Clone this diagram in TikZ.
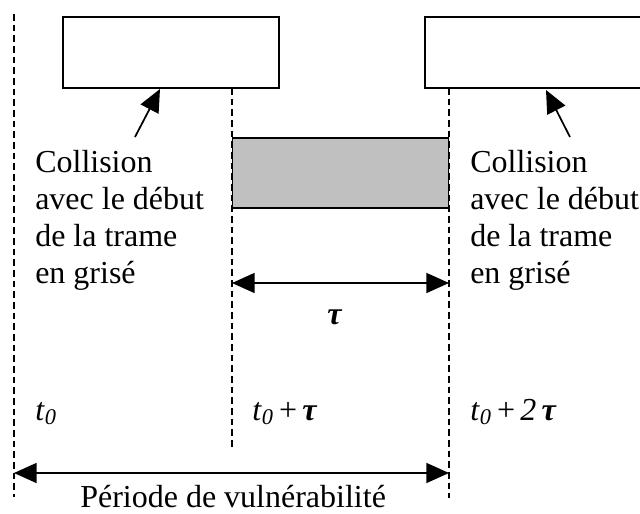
\documentclass[tikz,border=0pt]{standalone}
\usepackage{fontspec}
\setmainfont{Liberation Serif}
\usetikzlibrary{arrows.meta}
\tikzset{
  frame/.style={draw, line width=1.3pt, minimum width=216*0.75pt, minimum height=71*0.75pt, inner sep=0pt},
  guide/.style={line width=1.2pt, dash pattern=on 5pt off 3pt},
  tip/.style={line width=1.3pt, -{Triangle[length=17pt,width=15pt]}},
  dtip/.style={line width=1.3pt, {Triangle[length=17pt,width=15pt]}-{Triangle[length=17pt,width=15pt]}},
  lbl/.style={inner sep=0pt, anchor=base west, font=\fontsize{24}{27.75}\selectfont},
  block/.style={inner sep=0pt, anchor=north west, align=left, font=\fontsize{24}{27.75}\selectfont},
}
\newcommand{\tzero}{\textit{t}\textsubscript{\textit{0}}}
\newcommand{\tauglyph}{\textbf{\textit{τ}}}
\begin{document}
\begin{tikzpicture}[x=0.75pt, y=-0.75pt]
\useasboundingbox (0,0) rectangle (640,514);
\clip (0,0) rectangle (640,514);

% frames
\node[frame] (f1) at (171,52.5) {};
\node[frame] (f2) at (533,52.5) {};
\node[frame, fill={rgb,255:red,192;green,192;blue,192}, minimum height=70*0.75pt] (g) at (340.5,173) {};

% time markers
\coordinate (l0) at (14,14);
\coordinate (l1) at (14,497);
\coordinate (m0) at (232,88);
\coordinate (m1) at (232,450);
\coordinate (r0) at (449,88);
\coordinate (r1) at (449,498);
\draw[guide] (l0) -- (l1);
\draw[guide] (m0) -- (m1);
\draw[guide] (r0) -- (r1);

% collision pointers
\coordinate (a1) at (135,137);
\coordinate (a2) at (570,137);
\coordinate (h1) at (160,89);
\coordinate (h2) at (546,90);
\draw[tip] (a1) -- (h1);
\draw[tip] (a2) -- (h2);

% durations
\coordinate (tL) at (232,283);
\coordinate (tR) at (449,283);
\draw[dtip] (tL) -- (tR);
\coordinate (vL) at (14,473);
\coordinate (vR) at (449,473);
\draw[dtip] (vL) -- (vR);

% texts
\node[block] (c1) at (35,150) {Collision\\avec le début\\de la trame\\en grisé};
\node[block] (c2) at (470,150) {Collision\\avec le début\\de la trame\\en grisé};
\node[lbl] (tau) at (327,324) {\tauglyph};
\node[lbl] (t0) at (35,420) {\tzero};
\node[lbl] (t1) at (252,420) {\tzero\,+\,\tauglyph};
\node[lbl] (t2) at (470,420) {\tzero\,+\,\textit{2}\,\tauglyph};
\node[lbl] (per) at (80,507) {Période de vulnérabilité};
\end{tikzpicture}
\end{document}
